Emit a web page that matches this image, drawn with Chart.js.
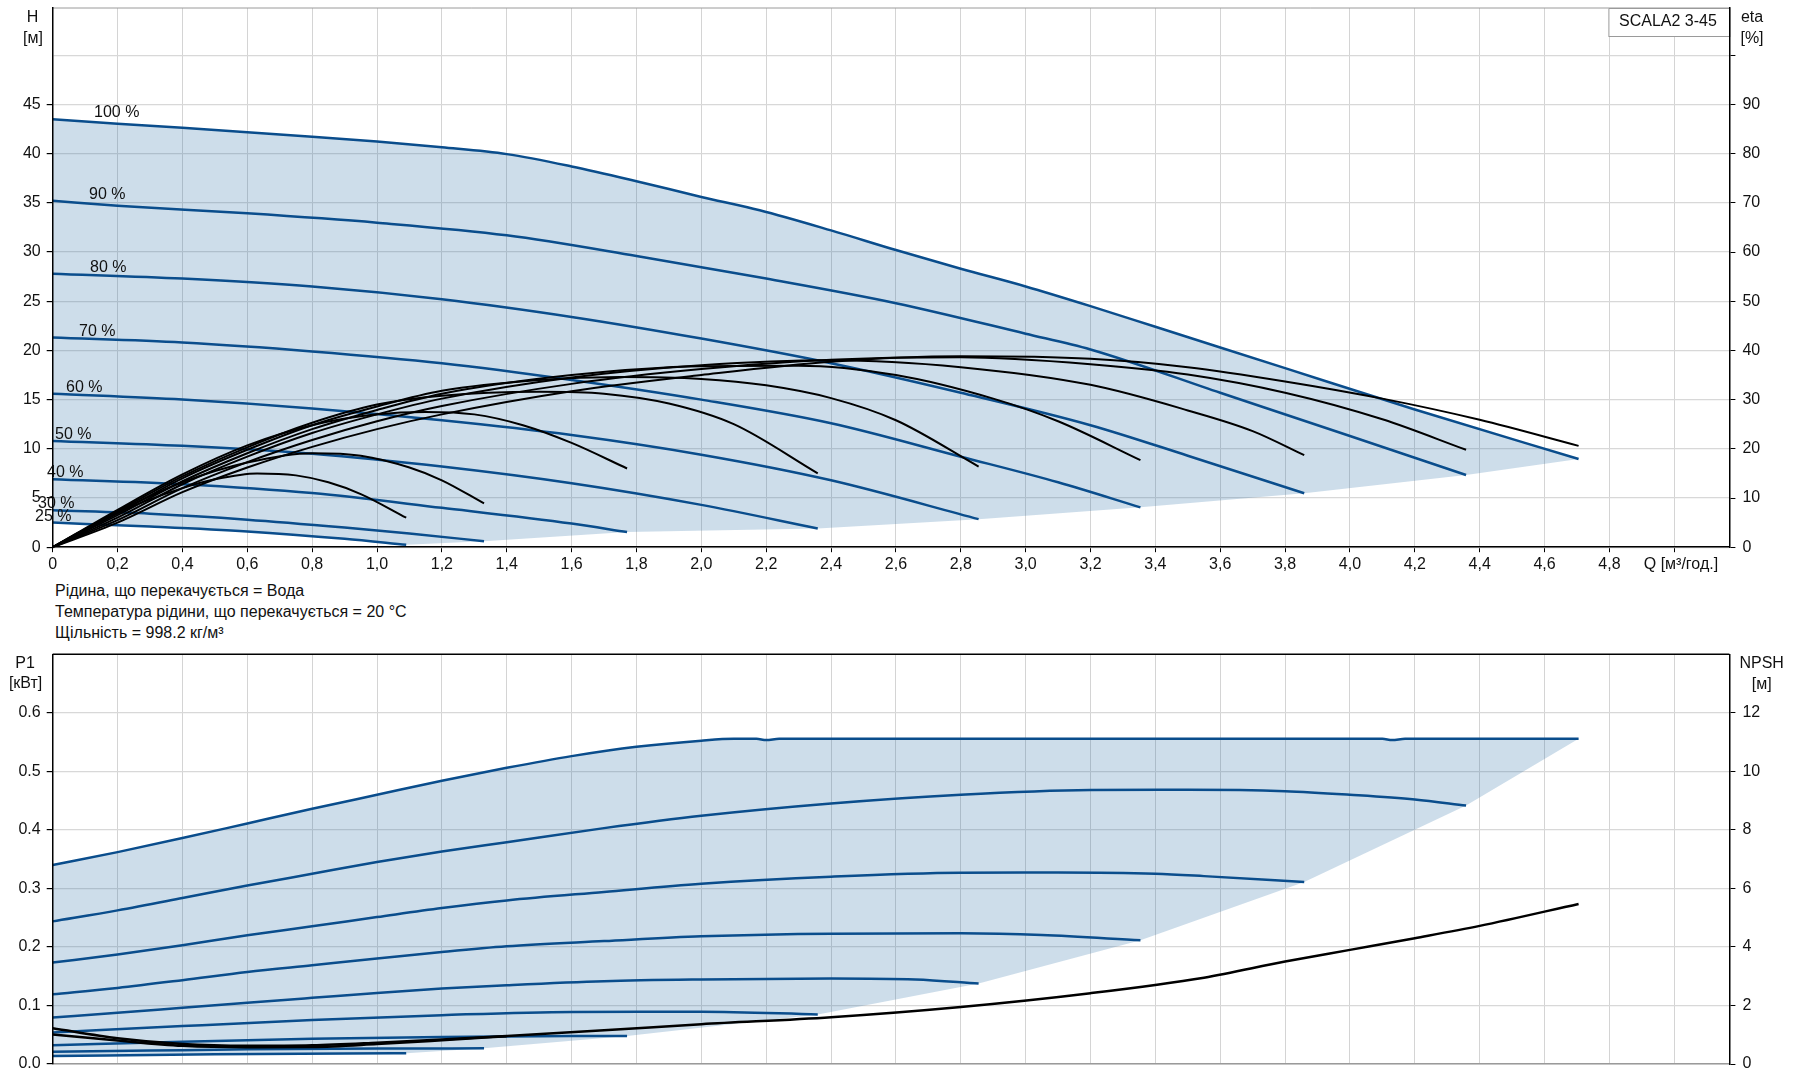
<!DOCTYPE html>
<html>
<head>
<meta charset="utf-8">
<script src="https://cdn.jsdelivr.net/npm/chart.js@4.4.0/dist/chart.umd.min.js"></script>
<style>
  body { margin: 0; background: #fff; width: 1795px; height: 1081px; overflow: hidden; position: relative;
         font-family: "Liberation Sans", Arial, sans-serif; }
  #topChart { position: absolute; left: 0; top: 0; }
  #bottomChart { position: absolute; left: 0; top: 640px; }
  .notes { position: absolute; left: 55px; top: 580px; font-size: 16px; line-height: 21px; color: #111; }
</style>
</head>
<body>
<canvas id="topChart" width="1795" height="580"></canvas>
<div class="notes">Рідина, що перекачується = Вода<br>Температура рідини, що перекачується = 20 °C<br>Щільність = 998.2 кг/м³</div>
<canvas id="bottomChart" width="1795" height="441"></canvas>
<script>
// speed curves, 100 % down to 25 %
const speedLabels = ['100 %', '90 %', '80 %', '70 %', '60 %', '50 %', '40 %', '30 %', '25 %'];

// head H [m] vs Q [m3/h]
const head100 = [[0,43.5],[0.2,43.04],[0.4,42.64],[0.6,42.18],[0.8,41.72],[1.0,41.22],[1.2,40.64],[1.4,39.95],[1.6,38.7],[1.8,37.2],[2.0,35.6],[2.18,34.25],[2.4,32.2],[2.6,30.2],[2.8,28.3],[3.0,26.5],[3.2,24.5],[3.4,22.4],[3.8,18.2],[4.2,14.0],[4.705,8.96]];
const head90 = [[0,35.2],[0.2,34.7],[0.6,33.93],[1.0,32.98],[1.4,31.7],[1.8,29.6],[2.2,27.3],[2.6,24.8],[3.0,21.7],[3.2,20.1],[3.6,15.7],[4.0,11.3],[4.358,7.34]];
const head80 = [[0,27.8],[0.4,27.3],[0.8,26.5],[1.2,25.2],[1.6,23.4],[2.0,21.2],[2.4,18.7],[2.8,15.7],[3.2,12.4],[3.5,9.3],[3.859,5.48]];
const head70 = [[0,21.3],[0.4,20.8],[0.8,19.9],[1.2,18.7],[1.6,17.0],[2.0,15.0],[2.4,12.6],[2.8,9.2],[3.1,6.6],[3.354,4.05]];
const head60 = [[0,15.6],[0.4,15.0],[0.8,14.1],[1.2,12.9],[1.6,11.4],[2.0,9.4],[2.4,6.8],[2.855,2.85]];
const head50 = [[0,10.8],[0.4,10.3],[0.8,9.5],[1.2,8.2],[1.6,6.5],[2.0,4.3],[2.359,1.9]];
const head40 = [[0,6.9],[0.4,6.4],[0.8,5.5],[1.2,4.0],[1.6,2.4],[1.771,1.54]];
const head30 = [[0,3.75],[0.3,3.4],[0.6,2.8],[0.9,2.0],[1.1,1.4],[1.33,0.6]];
const head25 = [[0,2.5],[0.3,2.1],[0.6,1.6],[0.9,0.85],[1.09,0.25]];

// efficiency eta [%]
const eta100 = [[0,0],[0.2,5.0],[0.4,11.2],[0.6,16.2],[0.8,20.4],[1.0,24.0],[1.2,27.0],[1.6,31.7],[2.0,35.0],[2.4,37.7],[2.8,38.8],[3.2,38.3],[3.5,36.6],[3.8,33.7],[4.1,30.2],[4.4,25.9],[4.705,20.6]];
const eta90 = [[0,0],[0.2,5.5],[0.4,12.0],[0.6,17.3],[0.8,21.8],[1.0,25.6],[1.2,28.7],[1.6,33.2],[2.0,36.2],[2.4,38.1],[2.8,38.6],[3.2,37.2],[3.5,35.1],[3.8,31.4],[4.1,26.0],[4.358,19.8]];
const eta80 = [[0,0],[0.2,6.0],[0.4,12.8],[0.6,18.4],[0.8,23.2],[1.0,27.0],[1.2,30.2],[1.6,34.5],[2.0,37.0],[2.4,38.0],[2.8,36.6],[3.2,33.0],[3.5,27.8],[3.7,23.6],[3.859,18.7]];
const eta70 = [[0,0],[0.2,6.5],[0.4,13.4],[0.6,19.1],[0.8,24.0],[1.0,27.9],[1.2,31.2],[1.6,35.0],[2.0,36.8],[2.3,36.9],[2.6,35.0],[2.9,30.2],[3.1,25.6],[3.354,17.7]];
const eta60 = [[0,0],[0.2,6.9],[0.4,14.0],[0.6,19.8],[0.8,24.8],[1.0,28.6],[1.2,31.8],[1.5,34.0],[1.75,34.6],[2.0,34.2],[2.2,32.9],[2.4,30.3],[2.6,25.8],[2.855,16.4]];
const eta50 = [[0,0],[0.2,7.3],[0.4,14.4],[0.6,20.3],[0.8,25.3],[1.0,29.0],[1.2,30.8],[1.5,31.6],[1.7,31.2],[1.9,29.2],[2.1,25.0],[2.359,15.0]];
const eta40 = [[0,0],[0.2,7.6],[0.4,14.8],[0.6,20.7],[0.8,24.8],[1.0,27.0],[1.15,27.5],[1.3,27.0],[1.45,24.8],[1.6,21.2],[1.771,16.0]];
const eta30 = [[0,0],[0.2,7.2],[0.4,13.2],[0.6,17.2],[0.8,19.1],[0.95,18.6],[1.1,16.2],[1.2,13.6],[1.33,8.9]];
const eta25 = [[0,0],[0.2,7.0],[0.4,12.0],[0.5,13.8],[0.63,15.0],[0.75,14.6],[0.85,13.2],[0.95,10.8],[1.09,6.0]];

// input power P1 [kW]
const power100 = [[0,0.340],[0.2,0.362],[0.4,0.386],[0.6,0.411],[0.8,0.436],[1.0,0.460],[1.2,0.484],[1.4,0.506],[1.6,0.526],[1.8,0.542],[2.0,0.5525],[2.1,0.5556],[2.17,0.5556],[2.2,0.5535],[2.24,0.5556],[4.1,0.5556],[4.13,0.5535],[4.17,0.5556],[4.705,0.5556]];
const power90 = [[0,0.2437],[0.2,0.2625],[0.4,0.2835],[0.6,0.305],[0.8,0.325],[1.0,0.345],[1.2,0.363],[1.4,0.379],[1.7,0.403],[2.0,0.424],[2.4,0.445],[2.8,0.460],[3.2,0.468],[3.5,0.4685],[3.8,0.466],[4.0,0.460],[4.2,0.452],[4.358,0.4415]];
const power80 = [[0,0.1733],[0.2,0.187],[0.4,0.2028],[0.6,0.22],[0.8,0.2352],[1.0,0.251],[1.2,0.2665],[1.4,0.2795],[1.7,0.294],[2.0,0.308],[2.4,0.320],[2.8,0.3267],[3.1,0.327],[3.4,0.325],[3.55,0.321],[3.859,0.311]];
const power70 = [[0,0.1193],[0.2,0.13],[0.4,0.1432],[0.6,0.1573],[0.8,0.1687],[1.0,0.1801],[1.2,0.1914],[1.4,0.2011],[1.7,0.21],[2.0,0.2182],[2.4,0.2227],[2.8,0.2232],[3.05,0.2204],[3.354,0.2114]];
const power60 = [[0,0.0795],[0.2,0.0875],[0.4,0.096],[0.6,0.1045],[0.8,0.113],[1.0,0.1215],[1.2,0.129],[1.4,0.1347],[1.7,0.1415],[2.0,0.1444],[2.4,0.1461],[2.66,0.1444],[2.855,0.1375]];
const power50 = [[0,0.054],[0.4,0.0648],[0.8,0.075],[1.2,0.0835],[1.6,0.089],[2.0,0.0892],[2.359,0.0847]];
const power40 = [[0,0.032],[0.4,0.038],[0.8,0.043],[1.2,0.046],[1.6,0.048],[1.771,0.048]];
const power30 = [[0,0.021],[0.3,0.023],[0.6,0.025],[1.0,0.0265],[1.33,0.0267]];
const power25 = [[0,0.0136],[0.5,0.0165],[0.9,0.018],[1.09,0.0182]];

// NPSH [m]
const npshA = [[0,1.22],[0.2,0.88],[0.4,0.68],[0.6,0.62],[0.8,0.64],[1.0,0.73],[1.2,0.84],[1.4,0.96],[1.7,1.15],[2.0,1.36],[2.4,1.6],[2.8,1.95],[3.2,2.42],[3.55,2.95],[3.8,3.5],[4.0,3.9],[4.2,4.3],[4.4,4.72],[4.705,5.47]];
const npshB = [[0,1.01],[0.2,0.8],[0.4,0.62],[0.6,0.57],[0.8,0.58],[1.0,0.68],[1.2,0.81],[1.4,0.95]];

const heads = [head100, head90, head80, head70, head60, head50, head40, head30, head25];
const etas = [eta100, eta90, eta80, eta70, eta60, eta50, eta40, eta30, eta25];
const powers = [power100, power90, power80, power70, power60, power50, power40, power30, power25];

const BLUE = '#0a4d8c';
const FILL = 'rgba(40, 110, 165, 0.23)';
const GRID = '#d4d4d4';
const FONT = '16px "Liberation Sans", Arial, sans-serif';

Chart.defaults.font.family = '"Liberation Sans", Arial, sans-serif';
Chart.defaults.font.size = 16;
Chart.defaults.color = '#111';

const pts = arr => arr.map(([x, y]) => ({ x, y }));
const last = arr => arr[arr.length - 1];

// outline of the operating range: top curve, end points of the others, back along the lowest curve
function areaPoints(curves) {
    const ends = curves.slice(1, -1).map(last);
    return pts([...curves[0], ...ends, ...curves[curves.length - 1].slice().reverse()]);
}

const areaSet = (curves, axis) => ({
    data: areaPoints(curves), yAxisID: axis, fill: 'shape', backgroundColor: FILL,
    borderColor: 'transparent', borderWidth: 0, pointRadius: 0, tension: 0, order: 20
});

const lineSet = (data, color, width, axis, order) => ({
    data: pts(data), yAxisID: axis, borderColor: color, borderWidth: width,
    pointRadius: 0, fill: false, cubicInterpolationMode: 'monotone', order
});

const qLabel = v => {
    if (Math.abs(v - 5) < 1e-6) return '   Q [м³/год.]';
    return v === 0 ? '0' : v.toFixed(1).replace('.', ',');
};

// fixed axis width, no extra label padding above/below the plot
const fixWidth = w => s => { s.width = w; s.paddingTop = 0; s.paddingBottom = 0; };

function annotator(cfg) {
    return {
        id: 'annotate',
        afterDatasetsDraw(chart) {
            const { ctx, chartArea: a, scales } = chart;
            ctx.save();
            ctx.strokeStyle = cfg.frameColor;
            ctx.lineWidth = cfg.frameWidth;
            ctx.beginPath();
            ctx.moveTo(a.left, a.top);
            ctx.lineTo(a.right, a.top);
            ctx.stroke();

            ctx.font = FONT;
            if (cfg.box) {
                const b = cfg.box;
                ctx.fillStyle = '#fff';
                ctx.fillRect(a.right - b.w, a.top, b.w, b.h);
                ctx.strokeStyle = '#9a9a9a';
                ctx.lineWidth = 1;
                ctx.strokeRect(a.right - b.w + 0.5, a.top + 0.5, b.w, b.h);
                ctx.fillStyle = '#111';
                ctx.textAlign = 'center';
                ctx.textBaseline = 'middle';
                ctx.fillText(b.text, a.right - b.w / 2 - 1, a.top + b.h / 2);
            }

            ctx.fillStyle = '#111';
            ctx.textAlign = 'center';
            ctx.textBaseline = 'middle';
            cfg.titles.forEach(([t, x, y]) => ctx.fillText(t, x, y));

            if (cfg.curveLabels) {
                ctx.textAlign = 'left';
                ctx.textBaseline = 'alphabetic';
                const left = [94, 89, 90, 79, 66, 55, 47, 38, 35];
                speedLabels.forEach((t, i) => {
                    const y = scales.y.getPixelForValue(heads[i][0][1]) - 2;
                    ctx.fillText(t, left[i], y);
                });
            }
            ctx.restore();
        }
    };
}

// H / eta chart
new Chart(document.getElementById('topChart'), {
    type: 'line',
    data: {
        datasets: [
            areaSet(heads, 'y'),
            ...heads.map(h => lineSet(h, BLUE, 2.5, 'y', 5)),
            ...etas.map(e => lineSet(e, '#000', 2, 'eta', 1))
        ]
    },
    options: {
        responsive: false,
        animation: false,
        events: [],
        layout: { padding: { top: 8, left: 0, right: 0, bottom: 0 } },
        plugins: { legend: { display: false }, tooltip: { enabled: false } },
        scales: {
            x: {
                type: 'linear', min: 0, max: 5.17,
                afterFit: s => { s.height = 32.8; },
                ticks: { stepSize: 0.2, includeBounds: false, maxTicksLimit: 100, autoSkip: false,
                         maxRotation: 0, padding: 3, callback: qLabel },
                grid: { color: GRID, lineWidth: 1, tickLength: 5, tickColor: '#000' },
                border: { color: '#000', width: 1.5, z: 1 }
            },
            y: {
                type: 'linear', position: 'left', min: 0, max: 54.8,
                afterFit: fixWidth(52.7),
                ticks: { stepSize: 5, includeBounds: false, padding: 6,
                         callback: v => (v > 45 ? '' : v) },
                grid: { color: '#d8d8d8', lineWidth: 1.2, tickLength: 6,
                        tickColor: c => (c.tick && c.tick.value > 45 ? 'transparent' : '#000') },
                border: { color: '#000', width: 1.5, z: 1 }
            },
            eta: {
                type: 'linear', position: 'right', min: 0, max: 109.6,
                afterFit: fixWidth(65.6),
                ticks: { stepSize: 10, includeBounds: false, padding: 7,
                         callback: v => (v > 90 ? '' : v) },
                grid: { drawOnChartArea: false, tickLength: 6, tickColor: '#000' },
                border: { color: '#000', width: 1.5, z: 1 }
            }
        }
    },
    plugins: [annotator({
        frameColor: '#9a9a9a', frameWidth: 1,
        box: { w: 121, h: 28, text: 'SCALA2 3-45' },
        titles: [['H', 32.5, 17.3], ['[м]', 33, 38.3], ['eta', 1752, 17.3], ['[%]', 1752, 38.3]],
        curveLabels: true
    })]
});

// P1 / NPSH chart
new Chart(document.getElementById('bottomChart'), {
    type: 'line',
    data: {
        datasets: [
            areaSet(powers, 'y'),
            ...powers.map(p => lineSet(p, BLUE, 2.5, 'y', 5)),
            lineSet(npshA, '#000', 2.5, 'npsh', 1),
            lineSet(npshB, '#000', 2.5, 'npsh', 1)
        ]
    },
    options: {
        responsive: false,
        animation: false,
        events: [],
        layout: { padding: { top: 14.3, left: 0, right: 0, bottom: 17 } },
        plugins: { legend: { display: false }, tooltip: { enabled: false } },
        scales: {
            x: {
                type: 'linear', min: 0, max: 5.17,
                afterFit: s => { s.height = 0; },
                ticks: { display: false, stepSize: 0.2, includeBounds: false, maxTicksLimit: 100 },
                grid: { color: GRID, lineWidth: 1, drawTicks: false },
                border: { color: '#9a9a9a', width: 1.5, z: 1 }
            },
            y: {
                type: 'linear', position: 'left', min: 0, max: 0.7,
                afterFit: fixWidth(52.7),
                afterBuildTicks: s => { s.ticks = s.ticks.filter(t => t.value < 0.65); },
                ticks: { stepSize: 0.1, includeBounds: false, padding: 6, callback: v => v.toFixed(1) },
                grid: { color: '#d8d8d8', lineWidth: 1.2, tickLength: 6, tickColor: '#000' },
                border: { color: '#000', width: 1.5, z: 1 }
            },
            npsh: {
                type: 'linear', position: 'right', min: 0, max: 14,
                afterFit: fixWidth(65.6),
                afterBuildTicks: s => { s.ticks = s.ticks.filter(t => t.value < 13); },
                ticks: { stepSize: 2, includeBounds: false, padding: 7 },
                grid: { drawOnChartArea: false, tickLength: 6, tickColor: '#000' },
                border: { color: '#000', width: 1.5, z: 1 }
            }
        }
    },
    plugins: [annotator({
        frameColor: '#000', frameWidth: 1.5,
        titles: [['P1', 25, 23.3], ['[кВт]', 25.6, 43.3], ['NPSH', 1761.7, 23.3], ['[м]', 1761.7, 44.3]]
    })]
});
</script>
</body>
</html>
